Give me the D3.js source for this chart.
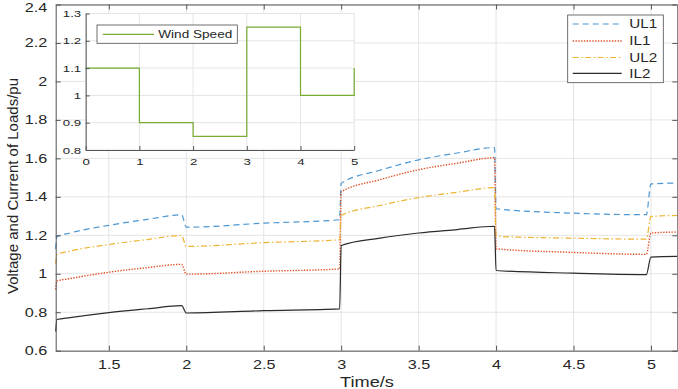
<!DOCTYPE html>
<html>
<head>
<meta charset="utf-8">
<script src="https://cdn.jsdelivr.net/npm/d3@7"></script>
<style>
  body { margin: 0; background: #fff; }
  text { font-family: "Liberation Sans", Arial, sans-serif; fill: #262626; }
</style>
</head>
<body>
<svg id="chart" width="678" height="389"></svg>
<script>
// simulation output
var time = [1.157, 1.165, 1.25, 1.5, 1.75, 1.97, 2.0, 2.5, 2.99, 3.0, 3.25, 3.5, 3.75, 3.99, 4.0, 4.5, 4.97, 5.0, 5.17];
var UL1 = [1.128, 1.192, 1.212, 1.252, 1.283, 1.307, 1.242, 1.263, 1.281, 1.470, 1.538, 1.592, 1.628, 1.656, 1.338, 1.315, 1.307, 1.467, 1.472];
var IL1 = [0.918, 0.962, 0.975, 1.008, 1.032, 1.049, 0.998, 1.013, 1.025, 1.425, 1.489, 1.541, 1.575, 1.603, 1.130, 1.111, 1.101, 1.212, 1.217];
var UL2 = [1.052, 1.100, 1.118, 1.152, 1.178, 1.199, 1.142, 1.162, 1.177, 1.303, 1.355, 1.396, 1.424, 1.448, 1.195, 1.185, 1.180, 1.298, 1.303];
var IL2 = [0.700, 0.762, 0.772, 0.798, 0.818, 0.834, 0.796, 0.808, 0.817, 1.147, 1.185, 1.212, 1.230, 1.247, 1.017, 1.003, 0.996, 1.087, 1.090];
var seriesNames = ["UL1", "IL1", "UL2", "IL2"];

var windTime = [0, 1, 2, 3, 4, 5];
var windSpeed = [1.1, 0.9, 0.85, 1.25, 1.0, 1.1];

var xTicks = [1.5, 2, 2.5, 3, 3.5, 4, 4.5, 5];
var yTicks = [0.6, 0.8, 1, 1.2, 1.4, 1.6, 1.8, 2, 2.2, 2.4];
var insetXTicks = [0, 1, 2, 3, 4, 5];
var insetYTicks = [0.8, 0.9, 1, 1.1, 1.2, 1.3];

var colors = ["#4a97d4", "#e0542a", "#edb432", "#2b2b2b"];
var dashes = ["6,4", "1.4,1.4", "6,2.5,1.5,2.5", null];
var gridColor = "#e4e4e4";
var axisColor = "#555";

// stretch text horizontally, the source figure was widened
function stretch(sel, k) {
    sel.each(function() {
        var t = d3.select(this);
        var x = +t.attr("x") || 0;
        t.attr("x", x / k).attr("transform", "scale(" + k + ",1)");
    });
}

function drawMain(svg) {
    var left = 55.7, right = 677.3, top = 4.5, bottom = 350.7;

    var x = d3.scaleLinear().domain([1.157, 5.17]).range([left, right]);
    var y = d3.scaleLinear().domain([0.6, 2.4]).range([bottom, top]);

    var grid = svg.append("g");
    grid.selectAll("line.gx").data(xTicks).enter().append("line")
        .attr("x1", function(d) { return x(d); }).attr("x2", function(d) { return x(d); })
        .attr("y1", top).attr("y2", bottom)
        .attr("stroke", gridColor);
    grid.selectAll("line.gy").data(yTicks).enter().append("line")
        .attr("y1", function(d) { return y(d); }).attr("y2", function(d) { return y(d); })
        .attr("x1", left).attr("x2", right)
        .attr("stroke", gridColor);

    var lines = svg.append("g");
    var data = [UL1, IL1, UL2, IL2];
    data.forEach(function(vals, i) {
        var fn = d3.line().curve(d3.curveMonotoneX)
            .x(function(d, j) { return x(time[j]); })
            .y(function(d) { return y(d); });
        lines.append("path")
            .attr("d", fn(vals))
            .attr("fill", "none")
            .attr("stroke", colors[i])
            .attr("stroke-width", i == 1 ? 1.4 : 1.2)
            .attr("stroke-dasharray", dashes[i]);
    });

    var fmt = function(d) { return String(d); };

    var gb = svg.append("g").attr("transform", "translate(0," + bottom + ")")
        .call(d3.axisBottom(x).tickValues(xTicks).tickFormat(fmt).tickSizeInner(-5).tickSizeOuter(0).tickPadding(10));
    var gt = svg.append("g").attr("transform", "translate(0," + top + ")")
        .call(d3.axisTop(x).tickValues(xTicks).tickFormat("").tickSizeInner(-5).tickSizeOuter(0));
    var gl = svg.append("g").attr("transform", "translate(" + left + ",0)")
        .call(d3.axisLeft(y).tickValues(yTicks).tickFormat(fmt).tickSizeInner(-5).tickSizeOuter(0).tickPadding(8.5));
    var gr = svg.append("g").attr("transform", "translate(" + right + ",0)")
        .call(d3.axisRight(y).tickValues(yTicks).tickFormat("").tickSizeInner(-5).tickSizeOuter(0));

    [gb, gt, gl, gr].forEach(function(g) {
        g.select(".domain").attr("stroke", axisColor);
        g.selectAll(".tick line").attr("stroke", axisColor);
        g.selectAll("text").attr("font-size", 12).attr("fill", "#262626")
            .attr("font-family", "Liberation Sans, Arial, sans-serif");
    });
    stretch(gb.selectAll("text"), 1.35);
    stretch(gl.selectAll("text"), 1.35);
    // top label sits right at the edge, nudge it in
    gl.selectAll(".tick text").filter(function(d) { return d == 2.4; }).attr("dy", "0.55em");

    svg.append("text").text("Time/s")
        .attr("x", 367 / 1.3).attr("y", 387)
        .attr("transform", "scale(1.3,1)")
        .attr("text-anchor", "middle").attr("font-size", 14);

    svg.append("text").text("Voltage and Current of Loads/pu")
        .attr("transform", "translate(18,186) rotate(-90)")
        .attr("text-anchor", "middle").attr("font-size", 15);

    // legend
    var lg = svg.append("g").attr("transform", "translate(567.7,15)");
    lg.append("rect").attr("width", 95.6).attr("height", 67.7)
        .attr("fill", "#fff").attr("stroke", "#4d4d4d").attr("stroke-width", 0.8);
    var rows = [9, 26, 42.5, 58.3];
    seriesNames.forEach(function(name, i) {
        lg.append("line")
            .attr("x1", 5).attr("x2", 54).attr("y1", rows[i]).attr("y2", rows[i])
            .attr("stroke", colors[i])
            .attr("stroke-width", i == 1 ? 1.4 : 1.2)
            .attr("stroke-dasharray", dashes[i]);
        lg.append("text").text(name)
            .attr("x", 61.6 / 1.22).attr("y", rows[i]).attr("dy", "0.36em")
            .attr("transform", "scale(1.22,1)")
            .attr("font-size", 12.5);
    });
}

function drawInset(svg) {
    var left = 85.7, right = 354.2, top = 13.5, bottom = 150;

    var x = d3.scaleLinear().domain([0, 5]).range([left, right]);
    var y = d3.scaleLinear().domain([0.8, 1.3]).range([bottom, top]);

    var g = svg.append("g");
    g.append("rect").attr("x", left).attr("y", top)
        .attr("width", right - left).attr("height", bottom - top)
        .attr("fill", "#fff");

    g.selectAll("line.gx").data(insetXTicks).enter().append("line")
        .attr("x1", function(d) { return x(d); }).attr("x2", function(d) { return x(d); })
        .attr("y1", top).attr("y2", bottom)
        .attr("stroke", gridColor);
    g.selectAll("line.gy").data(insetYTicks).enter().append("line")
        .attr("y1", function(d) { return y(d); }).attr("y2", function(d) { return y(d); })
        .attr("x1", left).attr("x2", right)
        .attr("stroke", gridColor);

    var fn = d3.line().curve(d3.curveStepAfter)
        .x(function(d, j) { return x(windTime[j]); })
        .y(function(d) { return y(d); });
    g.append("path").attr("d", fn(windSpeed))
        .attr("fill", "none").attr("stroke", "#77ac30").attr("stroke-width", 1.2);

    var fmt = function(d) { return String(d); };
    var gb = g.append("g").attr("transform", "translate(0," + bottom + ")")
        .call(d3.axisBottom(x).tickValues(insetXTicks).tickFormat(fmt).tickSizeInner(-4).tickSizeOuter(0).tickPadding(8.3));
    var gl = g.append("g").attr("transform", "translate(" + left + ",0)")
        .call(d3.axisLeft(y).tickValues(insetYTicks).tickFormat(fmt).tickSizeInner(-4).tickSizeOuter(0).tickPadding(4.5));

    [gb, gl].forEach(function(a) {
        a.select(".domain").attr("stroke", axisColor);
        a.selectAll(".tick line").attr("stroke", axisColor);
        a.selectAll("text").attr("font-size", 9.8).attr("fill", "#262626")
            .attr("font-family", "Liberation Sans, Arial, sans-serif");
    });
    stretch(gb.selectAll("text"), 1.35);
    stretch(gl.selectAll("text"), 1.35);

    var lg = g.append("g").attr("transform", "translate(97,25)");
    lg.append("rect").attr("width", 140.3).attr("height", 18.3)
        .attr("fill", "#fff").attr("stroke", "#4d4d4d").attr("stroke-width", 0.8);
    lg.append("line").attr("x1", 5.7).attr("x2", 57).attr("y1", 9.4).attr("y2", 9.4)
        .attr("stroke", "#77ac30").attr("stroke-width", 1.2);
    lg.append("text").text("Wind Speed")
        .attr("x", 61.3 / 1.27).attr("y", 9.4).attr("dy", "0.36em")
        .attr("transform", "scale(1.27,1)")
        .attr("font-size", 10.7);
}

var svg = d3.select("#chart");
svg.append("rect").attr("width", 678).attr("height", 389).attr("fill", "#fff");
drawMain(svg);
drawInset(svg);
</script>
</body>
</html>
